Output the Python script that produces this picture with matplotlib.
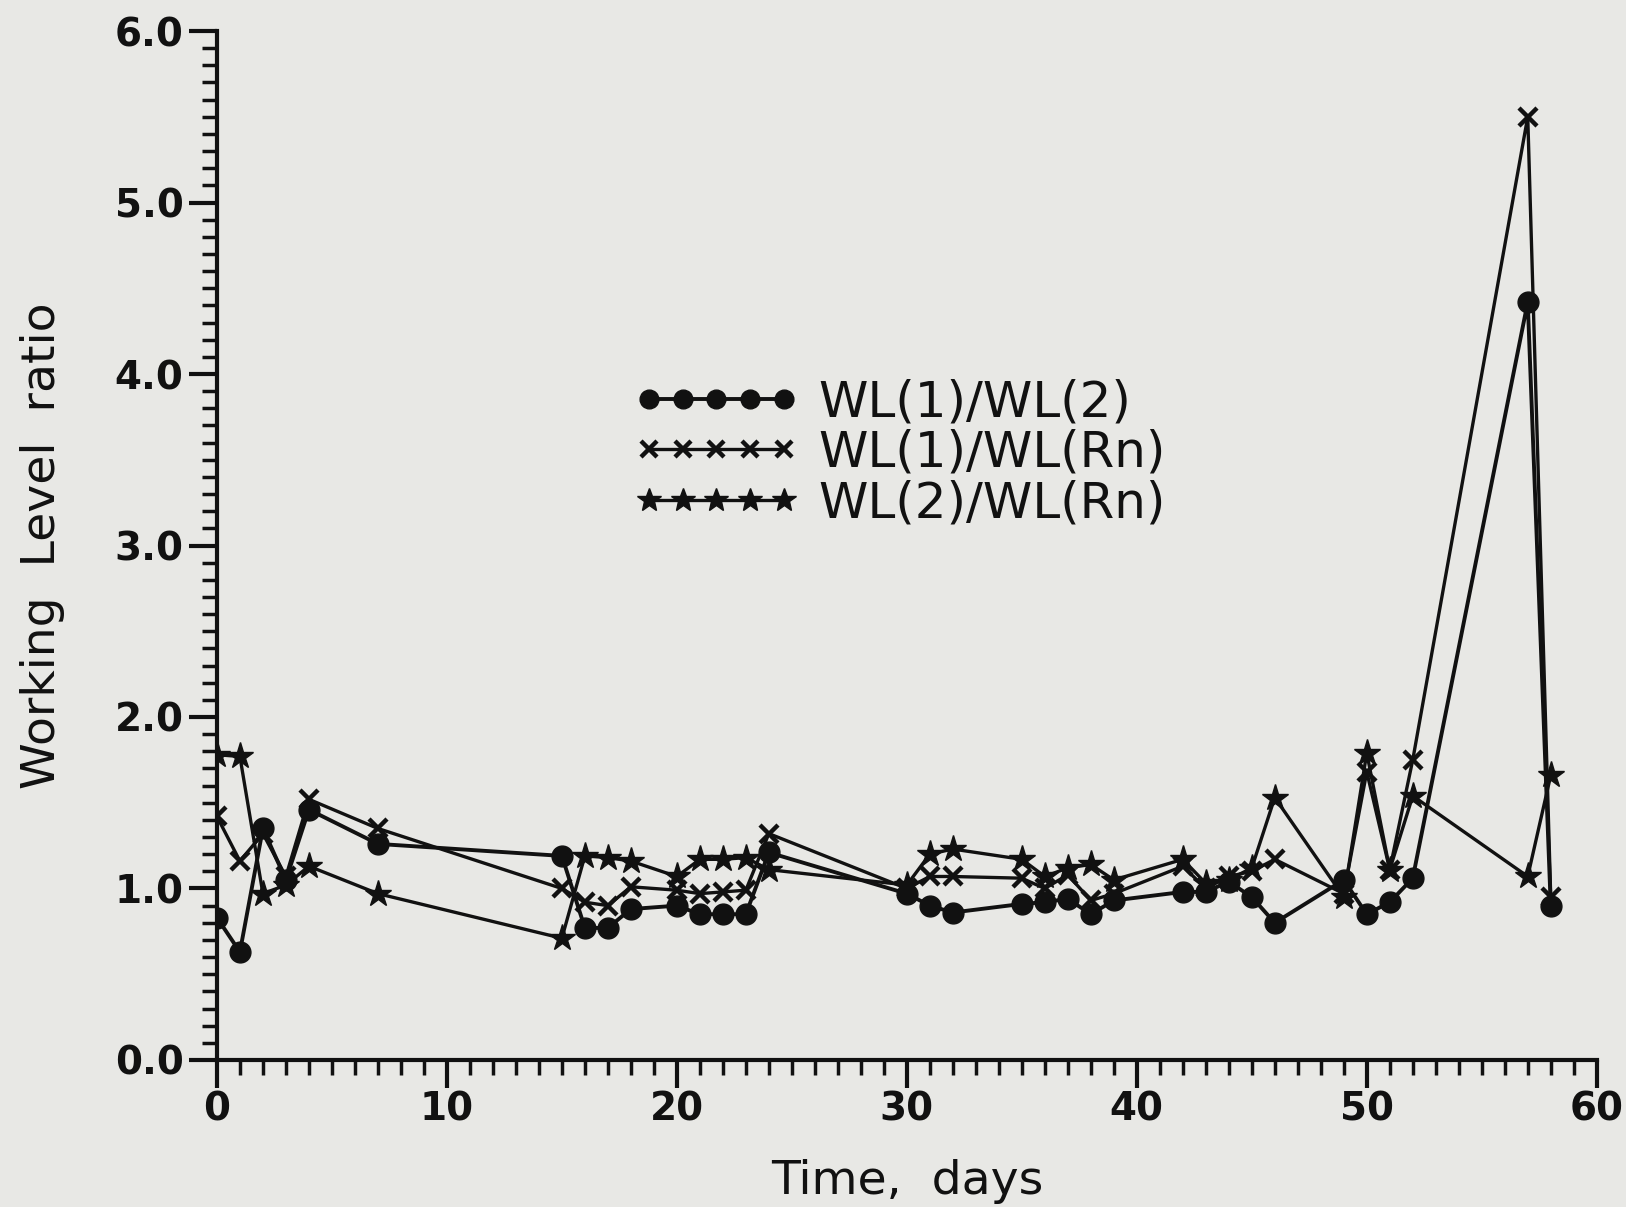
import matplotlib.pyplot as plt
from matplotlib.ticker import MultipleLocator, FormatStrFormatter

# -----------------------------
# DATA
# -----------------------------
days = [0, 1, 2, 3, 4, 7, 15, 16, 17, 18, 20, 21, 22, 23, 24, 30, 31, 32,
        35, 36, 37, 38, 39, 42, 43, 44, 45, 46, 49, 50, 51, 52, 57, 58]

wl1_wl2 = [0.83, 0.63, 1.35, 1.05, 1.46, 1.26, 1.19, 0.77, 0.77, 0.88, 0.90,
           0.85, 0.85, 0.85, 1.21, 0.97, 0.90, 0.86, 0.91, 0.92, 0.94, 0.85,
           0.93, 0.98, 0.98, 1.04, 0.95, 0.80, 1.05, 0.85, 0.92, 1.06, 4.42,
           0.90]

wl1_wlrn = [1.42, 1.16, 1.32, 1.07, 1.52, 1.35, 1.00, 0.92, 0.90, 1.01, 0.99,
            0.97, 0.98, 0.99, 1.32, 1.00, 1.07, 1.07, 1.06, 1.00, 1.08, 0.93,
            0.97, 1.13, 1.00, 1.07, 1.10, 1.17, 0.97, 1.68, 1.11, 1.75, 5.50,
            0.95]

wl2_wlrn = [1.78, 1.77, 0.97, 1.02, 1.13, 0.97, 0.71, 1.19, 1.18, 1.16, 1.07,
            1.17, 1.17, 1.18, 1.11, 1.02, 1.20, 1.23, 1.17, 1.07, 1.12, 1.14,
            1.05, 1.17, 1.03, 1.05, 1.12, 1.53, 0.95, 1.79, 1.11, 1.54, 1.07,
            1.66]

labels = ["WL(1)/WL(2)", "WL(1)/WL(Rn)", "WL(2)/WL(Rn)"]

# -----------------------------
# PLOT
# -----------------------------
PAPER = "#e8e8e5"
INK = "#111111"

fig = plt.figure(figsize=(16.26, 12.07), dpi=100, facecolor=PAPER)
ax = fig.add_axes([0.1334, 0.1218, 0.8486, 0.8525], facecolor=PAPER)

ax.plot(days, wl1_wl2, color=INK, lw=2.8, marker="o", ms=15,
        label=labels[0])
ax.plot(days, wl1_wlrn, color=INK, lw=2.4, marker="x", ms=13, mew=3.2,
        label=labels[1])
ax.plot(days, wl2_wlrn, color=INK, lw=2.4, marker="*", ms=20,
        label=labels[2])

ax.set_xlim(0, 60)
ax.set_ylim(0, 6)

for side in ("top", "right"):
    ax.spines[side].set_visible(False)
for side in ("left", "bottom"):
    ax.spines[side].set_linewidth(3)
    ax.spines[side].set_color(INK)

ax.xaxis.set_major_locator(MultipleLocator(10))
ax.xaxis.set_minor_locator(MultipleLocator(1))
ax.yaxis.set_major_locator(MultipleLocator(1))
ax.yaxis.set_minor_locator(MultipleLocator(0.1))
ax.yaxis.set_major_formatter(FormatStrFormatter("%.1f"))

ax.tick_params(which="major", direction="out", length=20, width=3,
               color=INK, labelsize=28, labelcolor=INK)
ax.tick_params(which="minor", direction="out", length=11, width=2.5,
               color=INK)
ax.tick_params(axis="y", which="major", pad=4)
ax.tick_params(axis="x", which="major", pad=2)
for lab in ax.get_xticklabels() + ax.get_yticklabels():
    lab.set_fontweight("bold")

ax.set_xlabel("Time,  days", fontsize=34, color=INK, labelpad=22)
ax.set_ylabel("Working  Level  ratio", fontsize=34, color=INK, labelpad=36)

leg = ax.legend(loc="upper left", bbox_to_anchor=(0.284, 0.687),
                frameon=False, numpoints=5, handlelength=3.3,
                handletextpad=0.4, labelspacing=0.05, borderpad=0,
                fontsize=36, markerscale=0.9)
for txt in leg.get_texts():
    txt.set_color(INK)

fig.savefig("out.png", dpi=100, facecolor=PAPER)
